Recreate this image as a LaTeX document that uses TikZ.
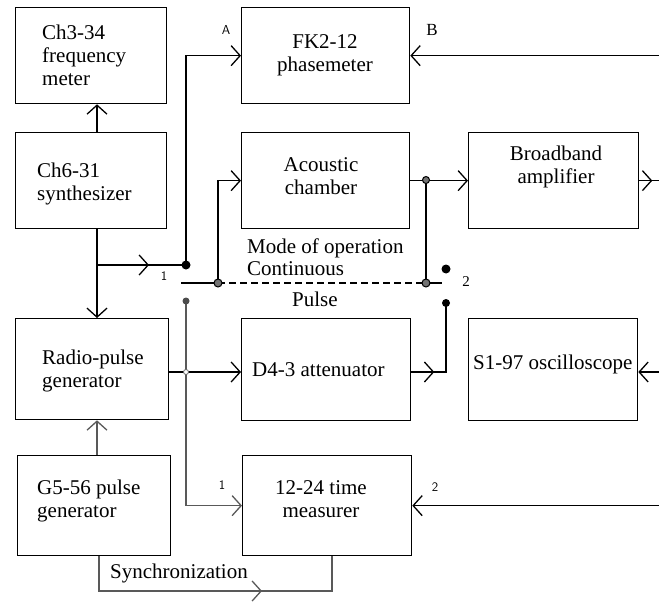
\documentclass[tikz,border=0pt]{standalone}
\usepackage{fontspec}
\setmainfont{Liberation Serif}
\usetikzlibrary{arrows.meta,calc}
\begin{document}
\begin{tikzpicture}[x=1pt,y=-1pt,
  >={Straight Barb[length=9pt,width=20pt,line width=1.3pt]},
  box/.style={draw,line width=1.3pt,rectangle,inner sep=0pt,anchor=north west},
  txt/.style={font=\fontsize{21}{23}\selectfont,inner sep=0pt},
  ln/.style={line width=1.3pt},
  pl/.style={line width=1.2pt,draw=black!65},
  small/.style={font=\sffamily\fontsize{13}{14}\selectfont,inner sep=0pt},
  jn/.style={draw,line width=1pt,fill=black!55}]
\useasboundingbox (0,0) rectangle (659,602);
% boxes
\node[box,minimum width=151pt,minimum height=96pt] (fm) at (15,7) {};
\node[box,minimum width=151pt,minimum height=96pt] (syn) at (15,132) {};
\node[box,minimum width=168pt,minimum height=96pt] (ph) at (241,7) {};
\node[box,minimum width=168pt,minimum height=96pt] (ac) at (241,132) {};
\node[box,minimum width=170pt,minimum height=96pt] (amp) at (468,132) {};
\node[box,minimum width=153pt,minimum height=101pt] (rpg) at (15,318) {};
\node[box,minimum width=169pt,minimum height=102pt] (att) at (241,318) {};
\node[box,minimum width=169pt,minimum height=102pt] (osc) at (468,318) {};
\node[box,minimum width=153pt,minimum height=100pt] (pg) at (17,455) {};
\node[box,minimum width=169pt,minimum height=100pt] (tm) at (242,455) {};
% texts
\node[txt,anchor=north west,align=left] (tfm) at (42,25) {Ch3-34\\frequency\\meter};
\node[txt,anchor=north west,align=left] (tsyn) at (37,163) {Ch6-31\\synthesizer};
\node[txt,anchor=north,align=center] (tph) at (325,34) {FK2-12\\phasemeter};
\node[txt,anchor=north,align=center] (tac) at (321,157) {Acoustic\\chamber};
\node[txt,anchor=north,align=center] (tamp) at (556,146) {Broadband\\amplifier};
\node[txt,anchor=north west,align=left] (trpg) at (42,350) {Radio-pulse\\generator};
\node[txt,anchor=north west] (tatt) at (252,362) {D4-3 attenuator};
\node[txt,anchor=north west] (tosc) at (473,355) {S1-97 oscilloscope};
\node[txt,anchor=north west,align=left] (tpg) at (37,480) {G5-56 pulse\\generator};
\node[txt,anchor=north,align=center] (ttm) at (321,480) {12-24 time\\measurer};
\node[txt,anchor=base west] (tmode) at (247,253) {Mode of operation};
\node[txt,anchor=base west] (tcont) at (247,275) {Continuous};
\node[txt,anchor=base west] (tpulse) at (292,306) {Pulse};
\node[txt,anchor=base] (tsync) at (179,578) {Synchronization};
\node[small] (lA) at (226,30) {A};
\node[font=\fontsize{17}{18}\selectfont,inner sep=0pt] (lB) at (432,30) {B};
\node[small] (l1a) at (164,276) {1};
\node[font=\fontsize{15}{16}\selectfont,inner sep=0pt] (l2a) at (466,282) {2};
\node[small] (l1b) at (222,485) {1};
\node[small] (l2b) at (435,487) {2};
% coordinates
\coordinate (xa) at (97,0);
\coordinate (xb) at (99,591);
\coordinate (xc) at (332,591);
\coordinate (J1) at (186,265);
\coordinate (J2) at (218,283);
\coordinate (J3) at (426,180);
\coordinate (J4) at (426,283);
\coordinate (P1) at (186,301);
\coordinate (J5) at (186,372);
\coordinate (D2u) at (446,269);
\coordinate (D2d) at (446,303);
\coordinate (SL) at (181,283);
\coordinate (SR) at (442,283);
\coordinate (RE) at (659,0);
% continuous path
\draw[ln,->] (syn.north -| xa) -- (fm.south -| xa);
\draw[ln,->] (syn.south -| xa) -- (rpg.north -| xa);
\draw[ln] (J1 -| xa) -- (J1);
\draw[ln,->] (J1 -| xa) -- ($(J1 -| xa)+(52,0)$);
\draw[ln,->] (J1) |- (ph.west);
\draw[ln,->] (J2) |- (ac.west);
\draw[ln,->] (ac.east) -- (amp.west);
\draw[ln] (J3) -- (J4);
\draw[ln] (amp.east) -- (amp.east -| RE);
\draw[ln,->] (amp.east) -- ($(amp.east)+(13,0)$);
\draw[ln,->] (ph.east -| RE) -- (ph.east);
% switch
\draw[line width=2pt] (SL) -- (J2);
\draw[line width=1.3pt,dash pattern=on 7pt off 4pt] (J2) -- (J4);
\draw[ln] (J4) -- (SR);
% pulse path
\draw[pl] (P1) -- (J5);
\draw[ln,->] (J5 -| rpg.east) -- (J5 -| att.west);
\draw[pl,->] (J5) |- (tm.west);
\draw[ln] (J5 -| att.east) -- (D2d |- J5) -- (D2d);
\draw[ln,->] (J5 -| att.east) -- ($(J5 -| att.east)+(23,0)$);
\draw[ln,->] (J5 -| RE) -- (J5 -| osc.east);
\draw[ln,->] (tm.east -| RE) -- (tm.east);
\draw[pl,->] (pg.north -| xa) -- (rpg.south -| xa);
\draw[pl] (pg.south -| xb) -- (xb) -- (xc) -- (tm.south -| xc);
\draw[pl,->] (xb) -- ($(xb)+(163,0)$);
% junctions and contacts
\fill (J1) circle (4.5pt);
\draw[jn] (J2) circle (4pt);
\draw[jn] (J3) circle (3.5pt);
\draw[jn] (J4) circle (4pt);
\fill (D2u) circle (4.5pt);
\fill (D2d) circle (4pt);
\fill[black!70] (P1) circle (3.5pt);
\draw[line width=0.8pt,fill=white,draw=black!60] (J5) circle (2.5pt);
\end{tikzpicture}
\end{document}
